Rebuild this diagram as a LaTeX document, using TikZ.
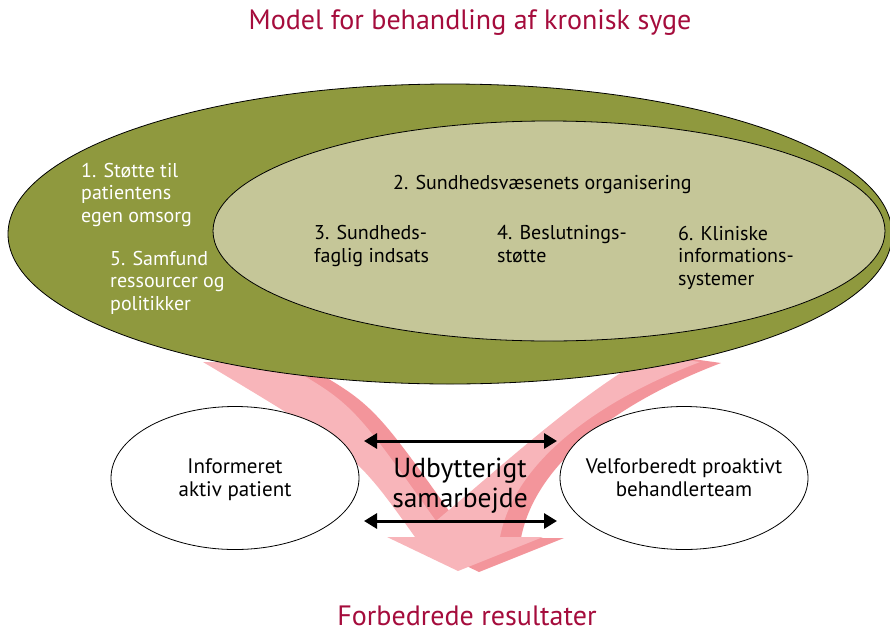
\documentclass[tikz,border=0pt]{standalone}
\usepackage{fontspec}
\setmainfont{PT Sans}
\usetikzlibrary{shapes.geometric,arrows.meta}
\definecolor{titlered}{HTML}{A50C3C}
\definecolor{outerolive}{HTML}{8F993E}
\definecolor{innerolive}{HTML}{C5C698}
\definecolor{pinklight}{HTML}{F8B5BA}
\definecolor{pinkdark}{HTML}{F3959B}
\tikzset{
  titletext/.style={text=titlered, font=\fontsize{28}{30}\selectfont, inner sep=0pt, anchor=base},
  whitetext/.style={text=white, font=\fontsize{20}{22.5}\selectfont, align=left, inner sep=0pt, anchor=base west},
  blacktext/.style={text=black, font=\fontsize{20}{22.5}\selectfont, align=left, inner sep=0pt, anchor=base west},
  ovaltext/.style={text=black, font=\fontsize{21}{23}\selectfont, align=center, inner sep=0pt, anchor=base},
  bigtext/.style={text=black, font=\fontsize{27.5}{29.5}\selectfont, align=center, inner sep=0pt, anchor=base},
  oval/.style={ellipse, draw=black, line width=0.8pt, inner sep=0pt},
  dblarrow/.style={line width=3pt, {Triangle[length=13pt,width=15pt]}-{Triangle[length=13pt,width=15pt]}}
}
\begin{document}
\begin{tikzpicture}[x=1pt,y=-1pt]
\useasboundingbox (0,0) rectangle (890,632);
% pink V-shaped arrow: dark shadow then light face
\foreach \dx/\dy/\col in {21/1/pinkdark, 0/0/pinklight}{
  \fill[\col, shift={(\dx,\dy)}]
    (203,362) -- (280,362)
    .. controls (352,403) .. (436,521)
    .. controls (520,450) and (580,395) .. (650,355)
    -- (700,362)
    .. controls (600,400) and (515,460) .. (500,537)
    -- (543,537) -- (458,571) -- (387,537) -- (415,537)
    .. controls (355,453) .. (203,362) -- cycle;
}
% ellipses
\node[oval, fill=outerolive, minimum width=884pt, minimum height=300pt] (outer) at (450,234) {};
\node[oval, fill=innerolive, minimum width=672pt, minimum height=220pt] (inner) at (549,231) {};
\node[oval, fill=white, minimum width=248pt, minimum height=143pt] (patient) at (235,478) {};
\node[oval, fill=white, minimum width=248pt, minimum height=143pt] (team) at (684,478) {};
% double arrows
\coordinate (a1l) at (364,441);
\coordinate (a1r) at (557,441);
\coordinate (a2l) at (364,521);
\coordinate (a2r) at (557,521);
\draw[dblarrow] (a1l) -- (a1r);
\draw[dblarrow] (a2l) -- (a2r);
% texts (anchor = baseline of the last line)
\node[titletext] (title) at (470,29) {Model for behandling af kronisk syge};
\node[titletext] (result) at (467,625) {Forbedrede resultater};
\node[whitetext] (t1) at (81,222) {1. Støtte til\\patientens\\egen omsorg};
\node[whitetext] (t5) at (110,310) {5. Samfund\\ressourcer og\\politikker};
\node[blacktext] (t2) at (393,189) {2. Sundhedsvæsenets organisering};
\node[blacktext] (t3) at (314,262) {3. Sundheds-\\faglig indsats};
\node[blacktext] (t4) at (497,262) {4. Beslutnings-\\støtte};
\node[blacktext] (t6) at (678,285) {6. Kliniske\\informations-\\systemer};
\node[ovaltext] (tp) at (235,496) {Informeret\\aktiv patient};
\node[ovaltext] (tt) at (684,496) {Velforberedt proaktivt\\behandlerteam};
\node[bigtext] (tc) at (460,507) {Udbytterigt\\samarbejde};
\end{tikzpicture}
\end{document}
